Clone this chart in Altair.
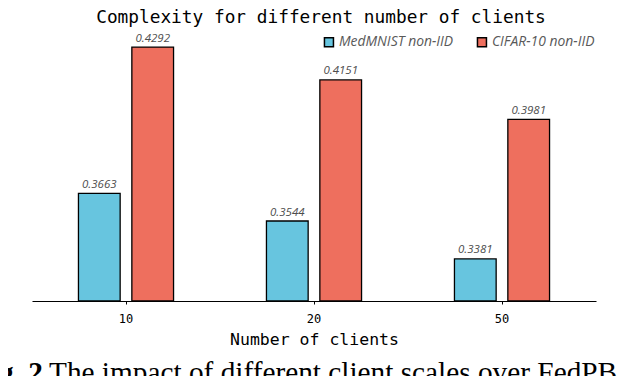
import altair as alt
import pandas as pd

clients = ["10", "20", "50"]
series = ["MedMNIST non-IID", "CIFAR-10 non-IID"]
medmnist = [0.3663, 0.3544, 0.3381]
cifar = [0.4292, 0.4151, 0.3981]
colors = ["#67C5DF", "#EE6F5E"]
y_min, y_max = 0.32, 0.44
title_text = "Complexity for different number of clients"
caption_bold = "Fig. 2"
caption_text = "The impact of different client scales over FedPB."

rows = []
for c, m, f in zip(clients, medmnist, cifar):
    rows.append({"clients": c, "series": series[0], "value": m})
    rows.append({"clients": c, "series": series[1], "value": f})
df = pd.DataFrame(rows)

base = alt.Chart(df).encode(
    x=alt.X("clients:N", sort=clients, title="Number of clients",
            scale=alt.Scale(paddingInner=0, paddingOuter=0)),
    xOffset=alt.XOffset("series:N", sort=series,
                        scale=alt.Scale(paddingInner=0.219, paddingOuter=0.87)),
)

yscale = alt.Scale(domain=[y_min, y_max], zero=False, nice=False)

bars = base.mark_bar(stroke="black", strokeWidth=1.3).encode(
    y=alt.Y("value:Q", scale=yscale, axis=None),
    y2=alt.datum(y_min),
    color=alt.Color(
        "series:N", sort=series,
        scale=alt.Scale(domain=series, range=colors),
        legend=alt.Legend(
            orient="none", legendX=290, legendY=13, direction="horizontal", title=None,
            symbolType="square", symbolSize=81, symbolStrokeColor="black",
            symbolStrokeWidth=1.5, symbolOpacity=1, labelFont="Open Sans",
            labelFontStyle="italic", labelFontSize=13.9, labelColor="#595959",
            labelOffset=3, columnPadding=20, padding=0,
        ),
    ),
)

labels = base.mark_text(
    font="Open Sans", fontStyle="italic", fontSize=11.5, color="#4d4d4d",
    baseline="alphabetic", dy=-5.5,
).encode(
    y=alt.Y("value:Q", scale=yscale, axis=None),
    text=alt.Text("value:Q", format=".4f"),
)

title = alt.Chart(pd.DataFrame({"t": [title_text]})).mark_text(
    font="DejaVu Sans Mono", fontSize=17.8, align="center",
    baseline="alphabetic", color="black",
).encode(x=alt.value(289), y=alt.value(1), text="t:N")

cap1 = alt.Chart(pd.DataFrame({"t": [caption_bold]})).mark_text(
    font="Liberation Serif", fontWeight="bold", fontSize=29.3, align="right",
    baseline="alphabetic", color="black",
).encode(x=alt.value(11), y=alt.value(360), text="t:N")

cap2 = alt.Chart(pd.DataFrame({"t": [caption_text]})).mark_text(
    font="Liberation Serif", fontSize=29.3, align="left",
    baseline="alphabetic", color="black",
).encode(x=alt.value(17), y=alt.value(360), text="t:N")

chart = alt.layer(bars, labels, title, cap1, cap2).properties(
    width=564, height=279,
    autosize=alt.AutoSizeParams(type="none"),
    padding={"left": 24, "top": 14, "right": 26, "bottom": 75},
).configure_view(stroke=None).configure_axis(
    domainColor="black", domainWidth=1.2, tickColor="black", tickSize=3, tickWidth=1,
    labelFont="DejaVu Sans Mono", labelFontSize=12, labelColor="black", labelAngle=0,
    labelBaseline="alphabetic", labelPadding=18,
    titleFont="DejaVu Sans Mono", titleFontSize=16.5, titleFontWeight="normal",
    titleColor="black", titleBaseline="alphabetic", titleY=43, grid=False,
)

chart.save("out.html", embed_options={"renderer": "svg", "actions": False})
